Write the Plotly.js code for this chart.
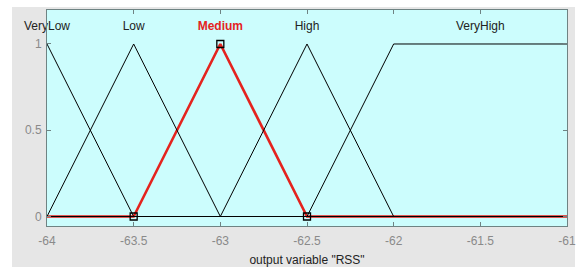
<!DOCTYPE html>
<html><head><meta charset="utf-8">
<script src="https://cdn.plot.ly/plotly-3.0.1.min.js"></script>
<style>
html,body{margin:0;padding:0;background:#fff;}
#wrap{position:relative;width:581px;height:267px;overflow:hidden;}
#bg{position:absolute;left:12px;top:7px;width:563px;height:260px;background:#e6e6e6;}
#chart{position:absolute;left:0;top:0;width:581px;height:267px;}
</style></head>
<body><div id="wrap"><div id="bg"></div><div id="chart"></div></div>
<script>
const xRange = [-64, -61];
const mfNames = ["VeryLow", "Low", "Medium", "High", "VeryHigh"];
const veryLowX = [-64, -63.5, -61];  const veryLowY = [1, 0, 0];
const lowX = [-64, -63.5, -63, -61]; const lowY = [0, 1, 0, 0];
const mediumX = [-64, -63.5, -63, -62.5, -61]; const mediumY = [0, 0, 1, 0, 0];
const highX = [-64, -63, -62.5, -62, -61]; const highY = [0, 0, 1, 0, 0];
const veryHighX = [-64, -62.5, -62, -61]; const veryHighY = [0, 0, 1, 1];
const labelX = [-64, -63.5, -63, -62.5, -61.5];
const labelY = [1.1, 1.1, 1.1, 1.1, 1.1];
const markerX = [-63.5, -63, -62.5]; const markerY = [0, 1, 0];
const xTicks = [-64, -63.5, -63, -62.5, -62, -61.5, -61];
const yTicks = [0, 0.5, 1];

const blk = {color:'#000', width:1};
const traces = [
  {x:mediumX, y:mediumY, mode:'lines', line:{color:'#e4231e', width:2.6}, hoverinfo:'skip'},
  {x:veryLowX, y:veryLowY, mode:'lines', line:blk},
  {x:lowX, y:lowY, mode:'lines', line:blk},
  {x:highX, y:highY, mode:'lines', line:blk},
  {x:veryHighX, y:veryHighY, mode:'lines', line:blk},
  {x:markerX, y:markerY, mode:'markers', marker:{symbol:'square-open', size:7, color:'#000', line:{width:1.3}}},
  {x:labelX, y:labelY, mode:'text', text:mfNames.map((n,i)=> i===2 ? '<b>'+n+'</b>' : n),
   textfont:{family:'Liberation Sans, Arial, sans-serif', size:12,
     color:mfNames.map((n,i)=> i===2 ? '#e4231e' : '#222')}, cliponaxis:false}
];
const axCommon = {showgrid:false, zeroline:false, showline:true, mirror:'ticks', linecolor:'#6f8383', linewidth:1,
  ticks:'inside', ticklen:4, tickcolor:'#6f8383', automargin:false,
  tickfont:{family:'Liberation Sans, Arial, sans-serif', size:12, color:'#8a8a8a'}};
const layout = {
  width:581, height:267, showlegend:false,
  paper_bgcolor:'rgba(0,0,0,0)', plot_bgcolor:'#ccfdfd',
  margin:{l:47, r:14, t:10, b:41},
  xaxis:Object.assign({}, axCommon, {range:xRange, tickvals:xTicks, ticktext:xTicks.map(String), ticklabelstandoff:4,
    title:{text:'output variable "RSS"', font:{family:'Liberation Sans, Arial, sans-serif', size:12, color:'#222'}, standoff:10}}),
  yaxis:Object.assign({}, axCommon, {range:[-0.055, 1.197], tickvals:yTicks, ticktext:yTicks.map(String), ticklabelstandoff:2})
};
Plotly.newPlot('chart', traces, layout, {displayModeBar:false, staticPlot:true});
</script></body></html>
